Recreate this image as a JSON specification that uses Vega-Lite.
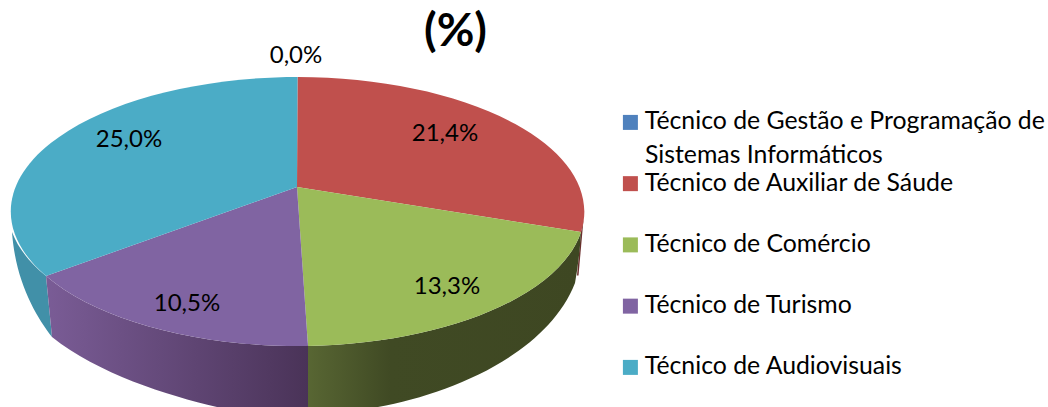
{
"$schema":"https://vega.github.io/schema/vega-lite/v6.json",
"width":595,"height":407,"padding":{"left":0,"top":0,"right":453,"bottom":0},"autosize":{"type":"none"},
"background":"white",
"title":{"text":"(%)","anchor":"start","dx":424,"dy":60,"fontSize":46,"font":"Lato","fontWeight":"bold","color":"#000000"},
"data":{"values":[
{"ordem":1,"curso":"Técnico de Gestão e Programação de Sistemas Informáticos","percentagem":0.0,"rotulo":"0,0%"},
{"ordem":2,"curso":"Técnico de Auxiliar de Sáude","percentagem":21.4,"rotulo":"21,4%"},
{"ordem":3,"curso":"Técnico de Comércio","percentagem":13.3,"rotulo":"13,3%"},
{"ordem":4,"curso":"Técnico de Turismo","percentagem":10.5,"rotulo":"10,5%"},
{"ordem":5,"curso":"Técnico de Audiovisuais","percentagem":25.0,"rotulo":"25,0%"}
]},
"config":{"view":{"stroke":null},"text":{"font":"Lato","fontSize":24,"color":"#000000"}},
"layer":[
{"transform":[{"filter":"datum.percentagem==21.4"}],
 "mark":{"type":"point","filled":true,"opacity":1,"size":4,"strokeWidth":0,"color":"#6b2f2d","shape":"M283.5 28.5 L286 16 L281 72 L279.5 72 Z"}},
{"transform":[{"filter":"datum.percentagem==25"}],
 "mark":{"type":"point","filled":true,"opacity":1,"size":4,"strokeWidth":0,"color":"#4190a8","shape":"M-285.5 28.5 A287.5 134.5 0 0 0 -251.5 72.5 L-245.5 133.5 C-262 112 -282 78 -285.5 28.5 Z"}},
{"transform":[{"filter":"datum.percentagem==10.5"}],
 "mark":{"type":"point","filled":true,"opacity":1,"size":4,"strokeWidth":0,
  "color":{"gradient":"linear","x1":0,"y1":0,"x2":1,"y2":0,"stops":[{"offset":0,"color":"#7a5c96"},{"offset":1,"color":"#4a3358"}]},
  "shape":"M-251.5 72.5 A287.5 134.5 0 0 0 10.5 142.5 L10.5 203.5 L-80.5 203.5 C-130 192 -200 170 -245.5 133.5 Z"}},
{"transform":[{"filter":"datum.percentagem==13.3"}],
 "mark":{"type":"point","filled":true,"opacity":1,"size":4,"strokeWidth":0,
  "color":{"gradient":"linear","x1":0,"y1":0,"x2":1,"y2":0,"stops":[{"offset":0,"color":"#586633"},{"offset":0.3,"color":"#404a24"},{"offset":1,"color":"#3e4722"}]},
  "shape":"M283.5 28.5 A287.5 134.5 0 0 1 10.5 142.5 L10.5 203.5 L80.5 203.5 C155 190 250 150 277.5 79.5 Q282 55 283.5 28.5 Z"}},
{"mark":{"type":"point","filled":true,"opacity":1,"size":4,"strokeWidth":0},
 "encoding":{
  "color":{"field":"curso","type":"nominal",
   "scale":{"domain":["Técnico de Gestão e Programação de Sistemas Informáticos","Técnico de Auxiliar de Sáude","Técnico de Comércio","Técnico de Turismo","Técnico de Audiovisuais"],
            "range":["#4f81bd","#c0504d","#9bbb59","#8064a2","#4bacc6"]},
   "legend":{"title":null,"orient":"none","legendX":618,"legendY":110,"padding":0,"symbolType":"square","symbolSize":225,"symbolStrokeWidth":0,"symbolOpacity":1,
     "labelFont":"Lato","labelFontSize":24.8,"labelColor":"#000000","labelOffset":2,"labelLimit":0,"rowPadding":35.25,"labelBaseline":"middle",
     "labelExpr":"replace(datum.label,' Sistemas Informáticos','')"}},
  "shape":{"field":"ordem","type":"nominal","legend":null,
   "scale":{"domain":[1,2,3,4,5],
            "range":["M-0.5 -126.5 L-0.5 -126.5 Z",
            "M-0.5 -16.5 L0 -126.5 A287.5 134.5 0 0 1 283.5 28.5 Z",
            "M-0.5 -16.5 L283.5 28.5 A287.5 134.5 0 0 1 10.5 142.5 Z",
            "M-0.5 -16.5 L10.5 142.5 A287.5 134.5 0 0 1 -251.5 72.5 Z",
            "M-0.5 -16.5 L-251.5 72.5 A287.5 134.5 0 0 1 0 -126.5 Z"]}}
 }},
{"transform":[{"filter":"datum.ordem==1"}],"mark":{"type":"text","text":"Sistemas Informáticos","baseline":"middle","align":"left","fontSize":24.8,"dx":347.5,"dy":-47.5}},
{"transform":[{"filter":"datum.percentagem==0"}],"mark":{"type":"text","baseline":"middle","align":"center","dx":-1.5,"dy":-147.5},"encoding":{"text":{"field":"rotulo"}}},
{"transform":[{"filter":"datum.percentagem==21.4"}],"mark":{"type":"text","baseline":"middle","align":"center","dx":147.5,"dy":-69.5},"encoding":{"text":{"field":"rotulo"}}},
{"transform":[{"filter":"datum.percentagem==13.3"}],"mark":{"type":"text","baseline":"middle","align":"center","dx":149.5,"dy":83.5},"encoding":{"text":{"field":"rotulo"}}},
{"transform":[{"filter":"datum.percentagem==10.5"}],"mark":{"type":"text","baseline":"middle","align":"center","dx":-110.5,"dy":100.5},"encoding":{"text":{"field":"rotulo"}}},
{"transform":[{"filter":"datum.percentagem==25"}],"mark":{"type":"text","baseline":"middle","align":"center","dx":-168.5,"dy":-63.5},"encoding":{"text":{"field":"rotulo"}}}
]
}
